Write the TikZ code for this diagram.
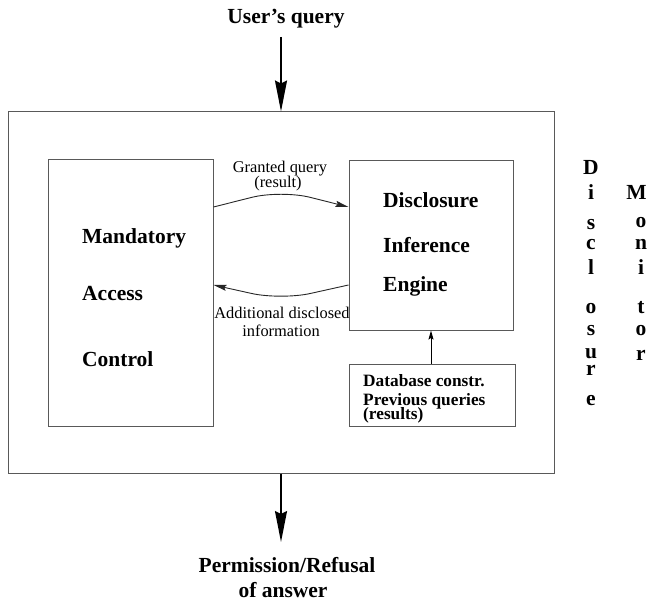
\documentclass[tikz,border=0pt]{standalone}
\usepackage{fontspec}
\setmainfont{Liberation Serif}
\usetikzlibrary{arrows.meta}
\begin{document}
\begin{tikzpicture}[x=1pt,y=-1pt,
  big/.style={font=\fontsize{21.5}{24}\selectfont\bfseries, inner sep=0pt},
  mid/.style={font=\fontsize{17.3}{20}\selectfont\bfseries, inner sep=0pt, anchor=base west},
  small/.style={font=\fontsize{16.4}{18}\selectfont, inner sep=0pt, anchor=base},
  boxstyle/.style={draw=black!65, line width=1pt, inner sep=0pt, rectangle},
  letter/.style={big, anchor=base},
  bigarrow/.style={line width=1.8pt, -{Stealth[length=31pt,width=12pt,inset=3pt]}},
  curvearrow/.style={line width=0.9pt, draw=black!85, rounded corners=30pt, -{Stealth[length=13pt,width=6pt,inset=2pt]}},
  smallarrow/.style={line width=1pt, -{Stealth[length=9pt,width=5pt,inset=1.5pt]}}
]
\useasboundingbox (0,0) rectangle (647,601);

% boxes
\node[boxstyle, minimum width=546pt, minimum height=361pt] (outer) at (281,292.5) {};
\node[boxstyle, minimum width=165pt, minimum height=266pt] (left) at (130.5,293) {};
\node[boxstyle, minimum width=164pt, minimum height=169pt] (right) at (431,245.5) {};
\node[boxstyle, minimum width=166pt, minimum height=62pt] (db) at (432,395) {};

% top / bottom texts
\node[big, anchor=base] (query) at (286,24) {User’s query};
\node[big, anchor=base] (perm) at (287,572) {Permission/Refusal};
\node[big, anchor=base] (ofans) at (283,597) {of answer};
\coordinate (qtop) at (281,37);
\coordinate (ansend) at (281,542);
\draw[bigarrow] (qtop) -- (outer.north);
\draw[bigarrow] (outer.south) -- (ansend);

% left box text
\node[big, anchor=base west] (mand) at (82,244) {Mandatory};
\node[big, anchor=base west] (acc) at (82,301) {Access};
\node[big, anchor=base west] (ctrl) at (82,366) {Control};

% right box text
\node[big, anchor=base west] (disc) at (383,208) {Disclosure};
\node[big, anchor=base west] (inf) at (383,253) {Inference};
\node[big, anchor=base west] (eng) at (383,291) {Engine};

% database text
\node[mid] (dbc) at (363,386) {Database constr.};
\node[mid] (pq) at (363,405) {Previous queries};
\node[mid] (res) at (363,419) {(results)};

% curve labels
\node[small] (gq) at (280,173) {Granted query};
\node[small] (gr) at (278,188) {(result)};
\node[small] (ad) at (282,318) {Additional disclosed};
\node[small] (ai) at (281,336) {information};

% curves
\draw[curvearrow] ([yshift=86pt]left.east) -- (281,190) -- ([yshift=38.5pt]right.west);
\draw[curvearrow] ([yshift=-39.5pt]right.west) -- (281,300) -- ([yshift=8pt]left.east);
\draw[smallarrow] (db.north -| right.south) -- (right.south);

% vertical Disclosure
\node[letter] (d1) at (591,175) {D};
\node[letter] (d2) at (591,200) {i};
\node[letter] (d3) at (591,230) {s};
\node[letter] (d4) at (591,250) {c};
\node[letter] (d5) at (591,275) {l};
\node[letter] (d6) at (591,313) {o};
\node[letter] (d7) at (591,335) {s};
\node[letter] (d8) at (591,358) {u};
\node[letter] (d9) at (591,375) {r};
\node[letter] (d10) at (591,405) {e};
% vertical Monitor
\node[letter] (m1) at (636.5,200) {M};
\node[letter] (m2) at (641,228) {o};
\node[letter] (m3) at (641,250) {n};
\node[letter] (m4) at (641,275) {i};
\node[letter] (m5) at (641,313) {t};
\node[letter] (m6) at (641,335) {o};
\node[letter] (m7) at (641,360) {r};
\end{tikzpicture}
\end{document}
